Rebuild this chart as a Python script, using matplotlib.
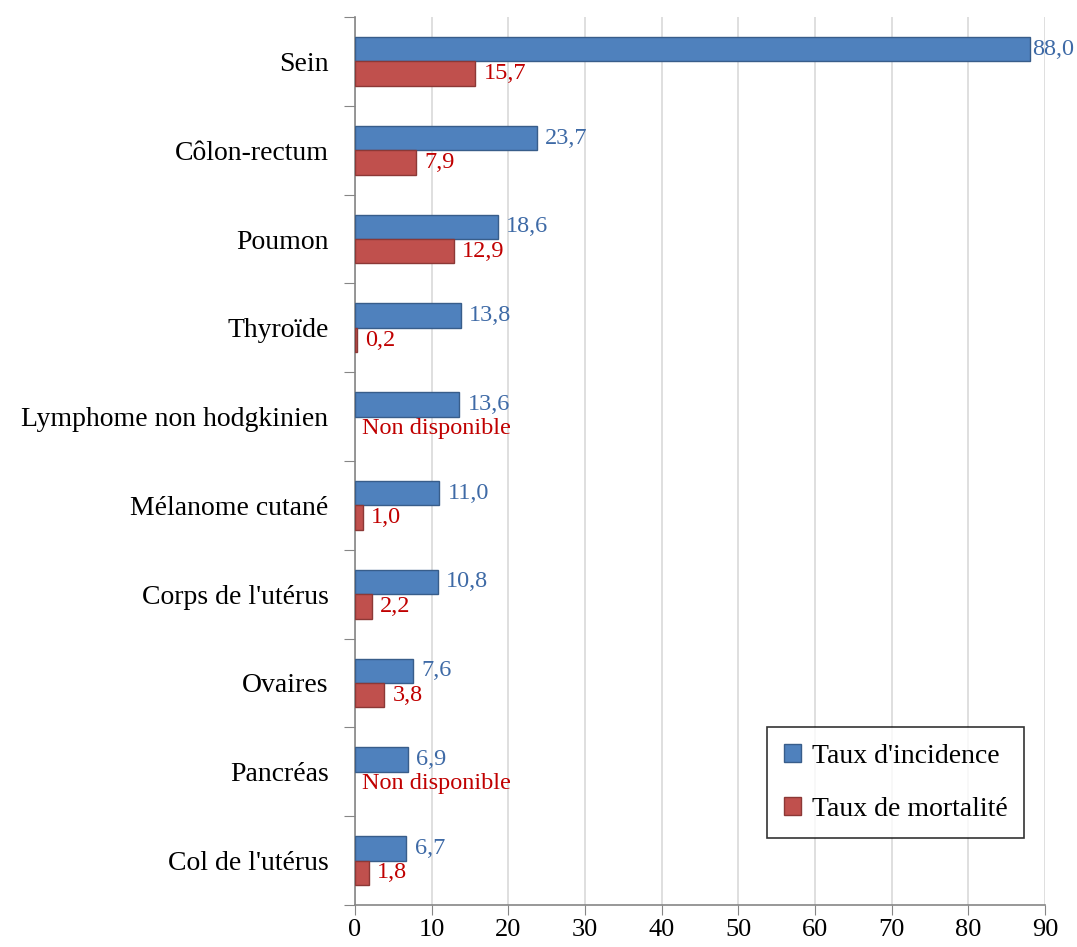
import matplotlib
matplotlib.use("Agg")
import matplotlib.pyplot as plt
import numpy as np

# données
localisations = ["Sein", "Côlon-rectum", "Poumon", "Thyroïde",
                 "Lymphome non hodgkinien", "Mélanome cutané",
                 "Corps de l'utérus", "Ovaires", "Pancréas", "Col de l'utérus"]
incidence = [88.0, 23.7, 18.6, 13.8, 13.6, 11.0, 10.8, 7.6, 6.9, 6.7]
mortalite = [15.7, 7.9, 12.9, 0.2, None, 1.0, 2.2, 3.8, None, 1.8]
xticks = [0, 10, 20, 30, 40, 50, 60, 70, 80, 90]

plt.rcParams['font.family'] = ['Liberation Serif', 'DejaVu Serif']

fig = plt.figure(figsize=(10.77, 9.47), dpi=100)
ax = fig.add_axes([0.3296, 0.0444, 0.6407, 0.9376])

n = len(localisations)
y = np.arange(n)
h = 0.275
bleu, rouge = "#4F81BD", "#C0504D"

ax.barh(y - h / 2, incidence, height=h, color=bleu, edgecolor="#385D8A",
        linewidth=1, label="Taux d'incidence", zorder=3)
mort_vals = [v if v is not None else np.nan for v in mortalite]
ax.barh(y + h / 2, mort_vals, height=h, color=rouge, edgecolor="#8C3836",
        linewidth=1, label="Taux de mortalité", zorder=3)

def fmt(v):
    return f"{v:.1f}".replace(".", ",")

for i in range(n):
    # étiquette proche du bord droit : on la colle à la barre
    dx = 2 if incidence[i] > 80 else 6
    ax.annotate(fmt(incidence[i]), (incidence[i], y[i] - h / 2),
                xytext=(dx, 0), textcoords="offset points", va="center",
                ha="left", fontsize=17.5, color="#3E6AA6")
    if mortalite[i] is None:
        ax.annotate("Non disponible", (0, y[i] + h / 2), xytext=(5, 0),
                    textcoords="offset points", va="center", ha="left",
                    fontsize=17.5, color="#C00000")
    else:
        ax.annotate(fmt(mortalite[i]), (mortalite[i], y[i] + h / 2),
                    xytext=(6, 0), textcoords="offset points", va="center",
                    ha="left", fontsize=17.5, color="#C00000")

ax.set_xlim(0, 90)
ax.set_ylim(n - 0.5, -0.5)
ax.set_xticks(xticks)
ax.set_xticklabels([str(t) for t in xticks], fontsize=19)
ax.set_yticks(np.arange(n + 1) - 0.5)
ax.set_yticklabels([])
ax.set_yticks(y, minor=True)
ax.set_yticklabels(localisations, minor=True, fontsize=20)
ax.tick_params(axis="y", which="minor", length=0, pad=19)
ax.tick_params(axis="y", which="major", length=8, color="#868686")
ax.tick_params(axis="x", length=7, color="#868686", pad=3)

ax.grid(axis="x", color="#D9D9D9", linewidth=1.2, zorder=0)
for s in ["top", "right"]:
    ax.spines[s].set_visible(False)
for s in ["left", "bottom"]:
    ax.spines[s].set_color("#868686")
    ax.spines[s].set_linewidth(1.2)

leg = ax.legend(loc="lower right", bbox_to_anchor=(0.97, 0.075),
                fontsize=20, frameon=True, fancybox=False, handlelength=0.6,
                handleheight=0.6, handletextpad=0.4, labelspacing=1.0,
                borderpad=0.6, borderaxespad=0)
leg.get_frame().set_edgecolor("black")
leg.get_frame().set_linewidth(1.2)

fig.savefig("out.png", dpi=100)
